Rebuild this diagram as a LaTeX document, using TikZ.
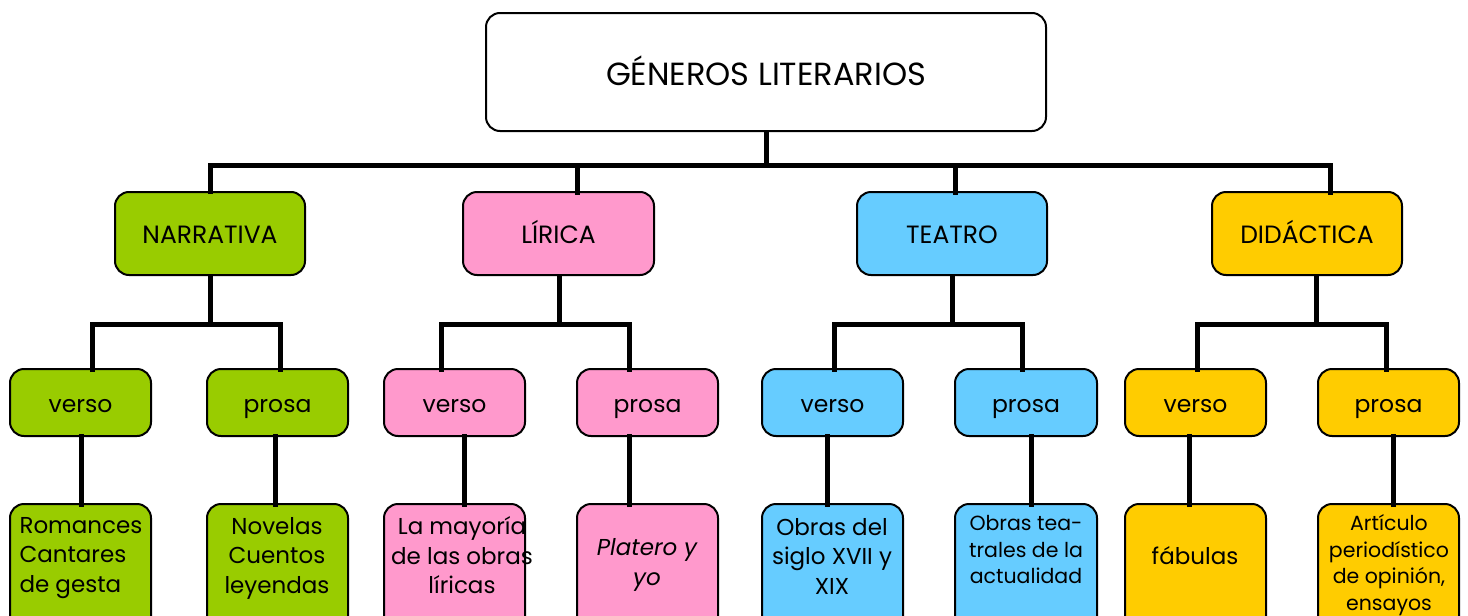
\documentclass[tikz,border=0pt]{standalone}
\usepackage{fontspec}
\setmainfont{Poppins}
\definecolor{cgreen}{HTML}{99CC00}
\definecolor{cpink}{HTML}{FF99CC}
\definecolor{cblue}{HTML}{66CCFF}
\definecolor{cgold}{HTML}{FFCC00}
\begin{document}
\begin{tikzpicture}[x=1pt,y=-1pt,
  box/.style={draw=black, line width=2pt, rounded corners=14pt, inner sep=0pt},
  conn/.style={line width=5pt, line cap=rect},
  lvlone/.style={font=\fontsize{25}{30}\selectfont, text height=19pt, text depth=0pt},
  lvltwo/.style={font=\fontsize{23.5}{28}\selectfont, text height=19pt, text depth=0pt},
  lvlthree/.style={font=\fontsize{23}{29.5}\selectfont, align=center},
  lvlsmall/.style={font=\fontsize{20.5}{26.5}\selectfont, align=center}]
\useasboundingbox (0,0) rectangle (1468,616);
\clip (0,0) rectangle (1468,616);
% top
\node[box, fill=white, minimum width=560pt, minimum height=118pt, font=\fontsize{32}{38}\selectfont, text height=26pt, text depth=0pt] (top) at (766,72) {GÉNEROS LITERARIOS};
% level 1
\node[box, fill=cgreen, minimum width=190pt, minimum height=83pt, lvlone] (nar) at (210,233.5) {NARRATIVA};
\node[box, fill=cpink, minimum width=191pt, minimum height=83pt, lvlone] (lir) at (558.5,233.5) {LÍRICA};
\node[box, fill=cblue, minimum width=190pt, minimum height=83pt, lvlone] (tea) at (952,233.5) {TEATRO};
\node[box, fill=cgold, minimum width=190pt, minimum height=83pt, lvlone] (did) at (1307,233.5) {DIDÁCTICA};
% level 2
\node[box, fill=cgreen, minimum width=141pt, minimum height=67pt, lvltwo] (narv) at (80.5,402.5) {verso};
\node[box, fill=cgreen, minimum width=141pt, minimum height=67pt, lvltwo] (narp) at (277.5,402.5) {prosa};
\node[box, fill=cpink, minimum width=141pt, minimum height=67pt, lvltwo] (lirv) at (454.5,402.5) {verso};
\node[box, fill=cpink, minimum width=141pt, minimum height=67pt, lvltwo] (lirp) at (647.5,402.5) {prosa};
\node[box, fill=cblue, minimum width=141pt, minimum height=67pt, lvltwo] (teav) at (832.5,402.5) {verso};
\node[box, fill=cblue, minimum width=142pt, minimum height=67pt, lvltwo] (teap) at (1026,402.5) {prosa};
\node[box, fill=cgold, minimum width=141pt, minimum height=67pt, lvltwo] (didv) at (1195.5,402.5) {verso};
\node[box, fill=cgold, minimum width=141pt, minimum height=67pt, lvltwo] (didp) at (1388.5,402.5) {prosa};
% level 3 boxes
\node[box, fill=cgreen, minimum width=141pt, minimum height=136pt] (narvb) at (80.5,572) {};
\node[box, fill=cgreen, minimum width=141pt, minimum height=136pt] (narpb) at (277.5,572) {};
\node[box, fill=cpink, minimum width=141pt, minimum height=136pt] (lirvb) at (454.5,572) {};
\node[box, fill=cpink, minimum width=141pt, minimum height=136pt] (lirpb) at (647.5,572) {};
\node[box, fill=cblue, minimum width=141pt, minimum height=136pt] (teavb) at (832.5,572) {};
\node[box, fill=cblue, minimum width=142pt, minimum height=136pt] (teapb) at (1026,572) {};
\node[box, fill=cgold, minimum width=141pt, minimum height=136pt] (didvb) at (1195.5,572) {};
\node[box, fill=cgold, minimum width=141pt, minimum height=136pt] (didpb) at (1388.5,572) {};
% level 3 texts
\node[lvlthree, align=left, anchor=west] (narvt) at (16,558) {Romances\\Cantares\\de gesta};
\node[lvlthree] (narpt) at (277,558) {Novelas\\Cuentos\\leyendas};
\node[lvlthree] (lirvt) at (462,555.5) {La mayoría\\de las obras\\líricas};
\node[lvlthree, font=\fontsize{23}{29.5}\itshape] (lirpt) at (647,565) {Platero y\\yo};
\node[lvlthree] (teavt) at (832,556) {Obras del\\siglo XVII y\\XIX};
\node[lvlsmall] (teapt) at (1026,550) {Obras tea-\\trales de la\\actualidad};
\node[lvlthree] (didvt) at (1195,556) {fábulas};
\node[lvlsmall] (didpt) at (1389,565) {Artículo\\periodístico\\de opinión,\\ensayos};
% connectors
\coordinate (bar) at (766,165);
\draw[conn] (top.south) -- (bar);
\draw[conn] (nar.north) -- (nar.north |- bar) -- (1330,165);
\draw[conn] (577,192) -- (577,165);
\draw[conn] (955,192) -- (955,165);
\draw[conn] (1330,192) -- (1330,165);
% narrativa
\draw[conn] (nar.south) -- (210,324);
\draw[conn] (92,369) -- (92,324) -- (280,324) -- (280,369);
\draw[conn] (81,436) -- (81,504);
\draw[conn] (275,436) -- (275,504);
% lirica
\draw[conn] (559,276) -- (559,324);
\draw[conn] (441,369) -- (441,324) -- (629,324) -- (629,369);
\draw[conn] (464,436) -- (464,504);
\draw[conn] (629,436) -- (629,504);
% teatro
\draw[conn] (952,276) -- (952,324);
\draw[conn] (834,369) -- (834,324) -- (1022,324) -- (1022,369);
\draw[conn] (827,436) -- (827,504);
\draw[conn] (1031,436) -- (1031,504);
% didactica
\draw[conn] (1316,276) -- (1316,324);
\draw[conn] (1197,369) -- (1197,324) -- (1386,324) -- (1386,369);
\draw[conn] (1189,436) -- (1189,504);
\draw[conn] (1393,436) -- (1393,504);
\end{tikzpicture}
\end{document}
